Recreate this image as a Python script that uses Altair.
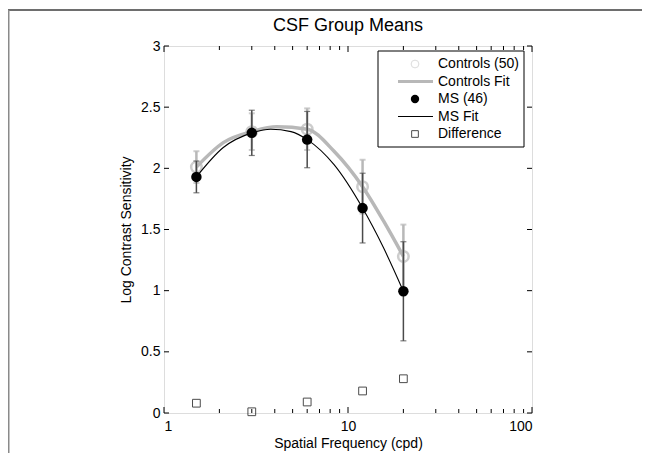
import altair as alt
import pandas as pd

# ---- data ----
freq = [1.5, 3, 6, 12, 20]
controls_mean = [2.01, 2.30, 2.32, 1.85, 1.28]
controls_err = [0.13, 0.15, 0.17, 0.22, 0.26]
ms_mean = [1.93, 2.29, 2.235, 1.675, 0.995]
ms_err = [0.13, 0.185, 0.23, 0.285, 0.405]
difference = [0.08, 0.01, 0.09, 0.18, 0.28]

controls_fit_freq = [1.5, 2.1, 3.0, 4.1, 6.0, 8.4, 12, 15.6, 20]
controls_fit_val = [2.01, 2.21, 2.30, 2.34, 2.32, 2.14, 1.85, 1.57, 1.28]
ms_fit_freq = [1.5, 2.1, 3.0, 3.8, 4.9, 6.0, 8.4, 12, 15.6, 20]
ms_fit_val = [1.93, 2.17, 2.29, 2.32, 2.30, 2.235, 2.03, 1.675, 1.35, 0.995]

x_major = [1, 10, 100]
x_minor = [2, 3, 4, 5, 6, 7, 8, 9, 20, 30, 40, 50, 60, 70, 80, 90]
y_ticks = [0, 0.5, 1, 1.5, 2, 2.5, 3]
legend_labels = ["Controls (50)", "Controls Fit", "MS (46)", "MS Fit", "Difference"]

title_text = "CSF Group Means"
x_title = "Spatial Frequency (cpd)"
y_title = "Log Contrast Sensitivity"

W, H = 368, 367
PAD = {"left": 156, "top": 38, "right": 110, "bottom": 40}
FONT = "Liberation Sans"
GREY = "#b8b8b8"
DARK = "#4a4a4a"

xs = alt.Scale(type="log", domain=[1, 100], nice=False)
ys = alt.Scale(domain=[0, 3], nice=False, zero=False)

X = lambda f: alt.X(f, type="quantitative", scale=xs,
                    axis=alt.Axis(values=x_major, format="~g", ticks=False, domain=False,
                                  grid=False, labelFontSize=14, labelPadding=6,
                                  labelFont=FONT, title=x_title, titleFont=FONT,
                                  titleFontSize=14, titleFontWeight="normal",
                                  titlePadding=3, labelColor="#000", titleColor="#000"))
Y = lambda f: alt.Y(f, type="quantitative", scale=ys,
                    axis=alt.Axis(values=y_ticks, format="~g", ticks=False, domain=False,
                                  grid=False, labelFontSize=14, labelPadding=4,
                                  labelFont=FONT, title=y_title, titleFont=FONT,
                                  titleFontSize=14, titleFontWeight="normal",
                                  titlePadding=7, labelColor="#000", titleColor="#000"))

pts = pd.DataFrame({
    "f": freq,
    "c": controls_mean,
    "c_lo": [m - e for m, e in zip(controls_mean, controls_err)],
    "c_hi": [m + e for m, e in zip(controls_mean, controls_err)],
    "m": ms_mean,
    "m_lo": [m - e for m, e in zip(ms_mean, ms_err)],
    "m_hi": [m + e for m, e in zip(ms_mean, ms_err)],
    "d": difference,
})
cfit = pd.DataFrame({"f": controls_fit_freq, "v": controls_fit_val})
mfit = pd.DataFrame({"f": ms_fit_freq, "v": ms_fit_val})

base = alt.Chart(pts)

c_bar = base.mark_rule(color=GREY, strokeWidth=2.5).encode(x=X("f"), y=Y("c_lo"), y2="c_hi")
c_cap_hi = base.mark_tick(color=GREY, orient="horizontal", size=6, thickness=2).encode(x=X("f"), y=Y("c_hi"))
c_cap_lo = base.mark_tick(color=GREY, orient="horizontal", size=6, thickness=2).encode(x=X("f"), y=Y("c_lo"))
c_line = alt.Chart(cfit).mark_line(color=GREY, strokeWidth=3.5, interpolate="monotone").encode(x=X("f"), y=Y("v"))
c_pts = base.mark_point(shape="circle", size=110, filled=False, color=GREY, strokeWidth=2.5).encode(x=X("f"), y=Y("c"))

m_bar = base.mark_rule(color=DARK, strokeWidth=1.5).encode(x=X("f"), y=Y("m_lo"), y2="m_hi")
m_cap_hi = base.mark_tick(color=DARK, orient="horizontal", size=6, thickness=1.2).encode(x=X("f"), y=Y("m_hi"))
m_cap_lo = base.mark_tick(color=DARK, orient="horizontal", size=6, thickness=1.2).encode(x=X("f"), y=Y("m_lo"))
m_line = alt.Chart(mfit).mark_line(color="#000", strokeWidth=1.1, interpolate="monotone").encode(x=X("f"), y=Y("v"))
m_pts = base.mark_point(shape="circle", size=110, filled=True, color="#000", opacity=1).encode(x=X("f"), y=Y("m"))

d_pts = base.mark_point(shape="square", size=60, filled=False, color="#000", strokeWidth=1).encode(x=X("f"), y=Y("d"))

# inward ticks on all four sides
ymaj = pd.DataFrame({"v": y_ticks})
xmaj = pd.DataFrame({"f": x_major})
xmin = pd.DataFrame({"f": x_minor})
tk = dict(color="#000", strokeWidth=1)
t_left = alt.Chart(ymaj).mark_rule(**tk).encode(y=Y("v"), x=alt.value(0), x2=alt.value(5))
t_right = alt.Chart(ymaj).mark_rule(**tk).encode(y=Y("v"), x=alt.value(W - 5), x2=alt.value(W))
t_bot = alt.Chart(xmaj).mark_rule(**tk).encode(x=X("f"), y=alt.value(H), y2=alt.value(H - 6))
t_top = alt.Chart(xmaj).mark_rule(**tk).encode(x=X("f"), y=alt.value(0), y2=alt.value(6))
t_bot2 = alt.Chart(xmin).mark_rule(**tk).encode(x=X("f"), y=alt.value(H), y2=alt.value(H - 4))
t_top2 = alt.Chart(xmin).mark_rule(**tk).encode(x=X("f"), y=alt.value(0), y2=alt.value(4))

# outer figure frame
one = pd.DataFrame({"k": [0]})
frame_top = alt.Chart(one).mark_rule(color="#6e6e6e", strokeWidth=2).encode(
    x=alt.value(-156), x2=alt.value(W + PAD["right"]), y=alt.value(-36))
frame_left = alt.Chart(one).mark_rule(color="#8a8a8a", strokeWidth=2).encode(
    x=alt.value(-155.5), y=alt.value(-36), y2=alt.value(H + PAD["bottom"]))

# title as text
title_mark = alt.Chart(pd.DataFrame({"t": [title_text]})).mark_text(
    align="center", baseline="alphabetic", font=FONT, fontSize=18, color="#000").encode(
    x=alt.value(W / 2), y=alt.value(-15), text="t:N")

# legend (manual)
LX0, LX1, LY0, LY1 = 214, 360, 5, 101
rows = [18, 35.5, 53, 70.5, 88]
leg_box = alt.Chart(one).mark_rect(fill="white", stroke="#000", strokeWidth=1).encode(
    x=alt.value(LX0), x2=alt.value(LX1), y=alt.value(LY0), y2=alt.value(LY1))
leg_layers = [leg_box]
for lab, ry in zip(legend_labels, rows):
    leg_layers.append(alt.Chart(pd.DataFrame({"t": [lab]})).mark_text(
        align="left", baseline="middle", font=FONT, fontSize=14, color="#000").encode(
        x=alt.value(274), y=alt.value(ry), text="t:N"))
leg_layers.append(alt.Chart(one).mark_point(shape="circle", size=60, filled=False, color="#cfcfcf", strokeWidth=1).encode(
    x=alt.value(251), y=alt.value(rows[0])))
leg_layers.append(alt.Chart(one).mark_rule(color=GREY, strokeWidth=3).encode(
    x=alt.value(234), x2=alt.value(269), y=alt.value(rows[1])))
leg_layers.append(alt.Chart(one).mark_point(shape="circle", size=70, filled=True, color="#000", opacity=1).encode(
    x=alt.value(251), y=alt.value(rows[2])))
leg_layers.append(alt.Chart(one).mark_rule(color="#000", strokeWidth=1).encode(
    x=alt.value(234), x2=alt.value(269), y=alt.value(rows[3])))
leg_layers.append(alt.Chart(one).mark_point(shape="square", size=45, filled=False, color="#000", strokeWidth=1).encode(
    x=alt.value(251), y=alt.value(rows[4])))

chart = alt.layer(
    frame_top, frame_left, title_mark,
    c_bar, c_cap_hi, c_cap_lo, c_line, c_pts,
    m_bar, m_cap_hi, m_cap_lo, m_line, m_pts,
    d_pts,
    t_left, t_right, t_bot, t_top, t_bot2, t_top2,
    *leg_layers,
).properties(
    width=W, height=H,
    autosize=alt.AutoSizeParams(type="none"),
    padding=PAD,
).configure_view(stroke="#000", strokeWidth=1).configure(background="white")

chart.save("out.html", embed_options={"renderer": "svg", "actions": False})
